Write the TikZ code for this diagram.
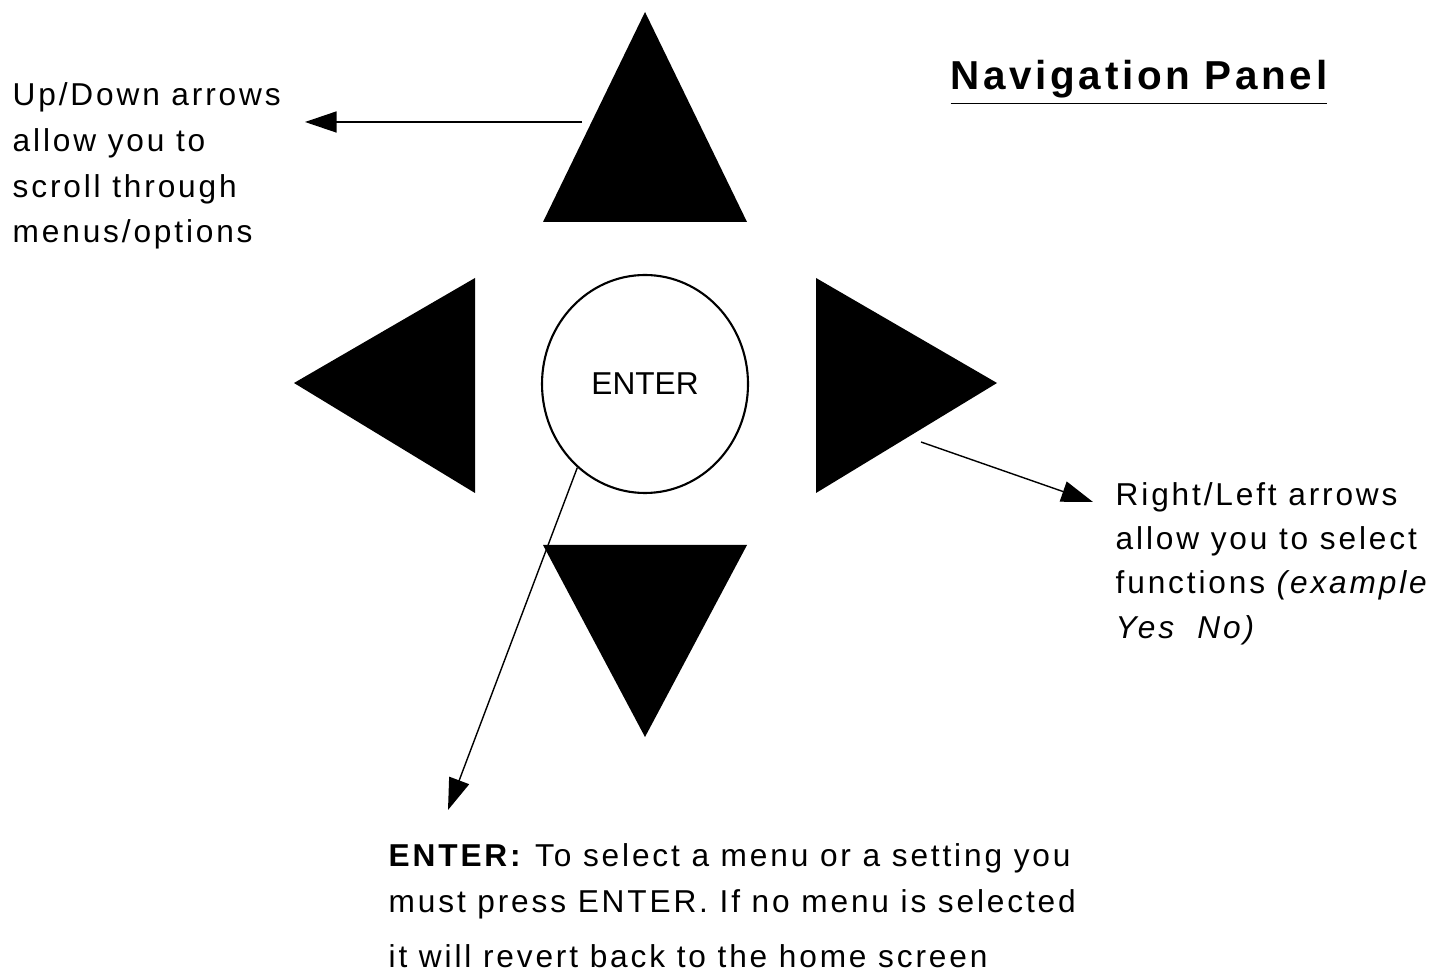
\documentclass[tikz,border=0pt]{standalone}
\usepackage{fontspec}
\setmainfont{Liberation Sans}[LetterSpace=9]
\newfontfamily\keyfont{Liberation Sans}
\usetikzlibrary{arrows.meta,shapes.geometric}

\begin{document}
\begin{tikzpicture}[x=0.1mm,y=0.1mm,
  note/.style={anchor=base west,align=left,inner sep=0pt,font=\fontsize{9}{13}\selectfont},
  pointer/.style={-{Triangle[length=9pt,width=6pt]},line width=.4pt}]
\useasboundingbox (0,0) rectangle (1446,-973);
% the four keys
\fill (645,-12) -- (747,-222) -- (543,-222) -- cycle;
\fill (294,-383) -- (475,-278) -- (475,-493) -- cycle;
\fill (997,-383) -- (816,-278) -- (816,-493) -- cycle;
\fill (645,-737) -- (747,-545) -- (543,-545) -- cycle;
\node (enter) [draw,ellipse,line width=.6pt,inner sep=0pt,minimum width=20.6mm,minimum height=21.8mm,font=\keyfont\fontsize{9}{11}\selectfont] at (645,-384) {ENTER};
% texts (anchored at the last line)
\node (title) [anchor=base west,inner sep=0pt,font=\fontsize{11.5}{14}\selectfont\bfseries] at (950,-90) {\underline{Navigation Panel}};
\node (updown) [note] at (12,-243) {Up/Down arrows\\allow you to\\scroll through\\menus/options};
\node (rightleft) [note,font=\fontsize{9}{12.6}\selectfont] at (1115,-638) {Right/Left arrows\\allow you to select\\functions \textit{(example}\\\textit{Yes\ \ No)}};
\node (entertxt) [note] at (388,-967) {\textbf{ENTER:} To select a menu or a setting you\\must press ENTER. If no menu is selected\\[2.6pt]it will revert back to the home screen};
% pointers
\coordinate (upfoot) at (582,-122);
\coordinate (uptip) at (305,-122);
\coordinate (rightfoot) at (921,-442);
\coordinate (righttip) at (1093,-502);
\coordinate (entertip) at (448,-810);
\draw [pointer] (upfoot) -- (uptip);
\draw [pointer] (rightfoot) -- (righttip);
\draw [pointer] (enter.231) -- (entertip);
\end{tikzpicture}
\end{document}
